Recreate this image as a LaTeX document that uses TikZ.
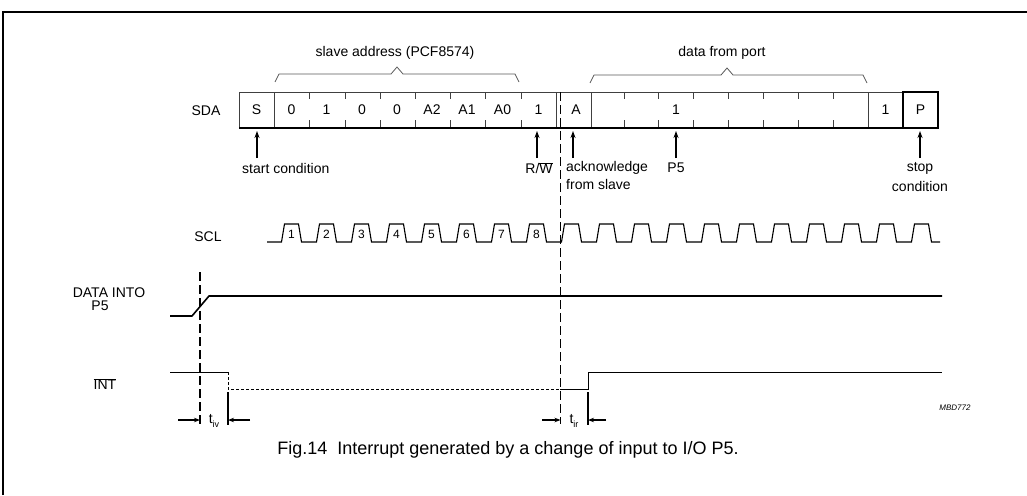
\documentclass[tikz,border=0pt]{standalone}
\usepackage{fontspec}
\setmainfont{Liberation Sans}
\usetikzlibrary{arrows.meta}
\begin{document}
\begin{tikzpicture}[x=1pt,y=-1pt,
  font=\fontsize{14}{16}\selectfont,
  lbl/.style={inner sep=0pt},
  small/.style={inner sep=0pt,font=\fontsize{12}{14}\selectfont},
  boxthin/.style={line width=0.8pt,black!75},
  boxthick/.style={line width=1.8pt},
  sig/.style={line width=1.6pt,line join=round},
  clk/.style={line width=1.1pt},
  marker/.style={dash pattern=on 9pt off 4pt,line width=1.6pt},
  uparrow/.style={line width=1.3pt,-{Stealth[length=7pt,width=5pt]}},
  tarrow/.style={line width=1.3pt,-{Stealth[length=6pt,width=4.5pt]}},
  brc/.style={line width=0.8pt,black!65,line join=round}]
\useasboundingbox (0,0) rectangle (1027,495);
% frame
\draw[line width=1.3pt] (3,495) -- (3,12) -- (1027,12);
% SDA box
\draw[boxthin] (239,92) -- (903,92);
\foreach \x in {239,274,556,591,868} \draw[boxthin] (\x,92) -- (\x,128);
\foreach \x in {309,345,380,415,450,485,521,624,658,693,728,763,798,833}
  {\draw[boxthin] (\x,92) -- (\x,99); \draw[boxthin] (\x,120) -- (\x,128);}
\draw[boxthick] (239,128) -- (938,128);
\draw[boxthick] (903,92) rectangle (938,128);
% cell texts
\node[lbl] (cS) at (256.5,110) {S};
\node[lbl] (c1) at (291.5,110) {0};
\node[lbl] (c2) at (326.5,110) {1};
\node[lbl] (c3) at (362,110) {0};
\node[lbl] (c4) at (397,110) {0};
\node[lbl] (c5) at (432,110) {A2};
\node[lbl] (c6) at (467,110) {A1};
\node[lbl] (c7) at (502.5,110) {A0};
\node[lbl] (c8) at (538.5,110) {1};
\node[lbl] (cA) at (576,110) {A};
\node[lbl] (cD) at (676,110) {1};
\node[lbl] (cE) at (885.5,110) {1};
\node[lbl] (cP) at (920.5,110) {P};
% braces
\draw[brc] (275,82) -- (279,74) -- (391,74) -- (397,67) -- (403,74) -- (515,74) -- (519,82);
\draw[brc] (590,83) -- (594,75) -- (721,75) -- (727,68) -- (733,75) -- (863,75) -- (867,83);
\node[lbl] (tsa) at (395,53) {slave address (PCF8574)};
\node[lbl] (tdp) at (722,53) {data from port};
% signal names
\node[lbl] (sda) at (206,111) {SDA};
\node[lbl] (scl) at (208,237) {SCL};
\node[lbl] (din) at (109,293) {DATA INTO};
\node[lbl] (dp5) at (100,306) {P5};
\node[lbl] (int) at (105,384) {$\overline{\mbox{INT}}$};
% arrows under SDA
\coordinate (aS) at (257,131);
\coordinate (aR) at (537,131);
\coordinate (aA) at (573,131);
\coordinate (aD) at (676,131);
\coordinate (aP) at (920,131);
\node[lbl,anchor=west] (lS) at (242,168) {start condition};
\node[lbl] (lR) at (539,168) {R/$\overline{\mbox{W}}$};
\node[lbl,anchor=west] (lA) at (566,168) {acknowledge};
\node[lbl,anchor=west] (lA2) at (566,184) {from slave};
\node[lbl] (lD) at (676,168) {P5};
\node[lbl] (lP) at (920,168) {stop};
\node[lbl] (lP2) at (920,186) {condition};
\draw[uparrow] (257,158) -- (aS);
\draw[uparrow] (537,158) -- (aR);
\draw[uparrow] (573,158) -- (aA);
\draw[uparrow] (676,158) -- (aD);
\draw[uparrow] (920,158) -- (aP);
% clock
\draw[clk] (267,242) foreach \k in {0,...,18} {
  -- ({281.5+35*\k},242) -- ({284.5+35*\k},224) -- ({298.5+35*\k},224) -- ({301.5+35*\k},242) } -- (940,242);
\foreach \k in {1,...,8} \node[small] (n\k) at ({291.5+35*(\k-1)},234) {\k};
% data into P5
\draw[sig] (170,316) -- (192,316) -- (209,296) -- (942,296);
% INT
\draw[line width=1pt] (170,372) -- (228,372);
\draw[line width=0.8pt,dash pattern=on 3pt off 2pt] (228,372) -- (228,389) -- (560,389);
\draw[line width=1pt] (560,389) -- (588,389) -- (588,372) -- (942,372);
% marker lines
\draw[marker] (560.5,92) -- (560.5,424);
\draw[marker] (200,272) -- (200,424);
% t_iv
\draw[line width=1.3pt] (228,392) -- (228,425);
\coordinate (v1) at (200,420);
\coordinate (v2) at (228,420);
\draw[tarrow] (178,420) -- (v1);
\draw[tarrow] (250,420) -- (v2);
\node[lbl] (tv) at (214,421) {t\raisebox{-0.5ex}{\fontsize{9}{10}\selectfont iv}};
% t_ir
\draw[line width=1.3pt] (588,392) -- (588,425);
\coordinate (z1) at (560.5,420);
\coordinate (z2) at (588,420);
\draw[tarrow] (542,420) -- (z1);
\draw[tarrow] (606,420) -- (z2);
\node[lbl] (tz) at (574,421) {t\raisebox{-0.5ex}{\fontsize{9}{10}\selectfont ir}};
% code
\node[lbl,font=\fontsize{8}{10}\selectfont\itshape] (code) at (955,408) {MBD772};
% caption
\node[lbl,font=\fontsize{18}{20}\selectfont] (cap) at (508,450) {Fig.14\ \ Interrupt generated by a change of input to I/O P5.};
\end{tikzpicture}
\end{document}
